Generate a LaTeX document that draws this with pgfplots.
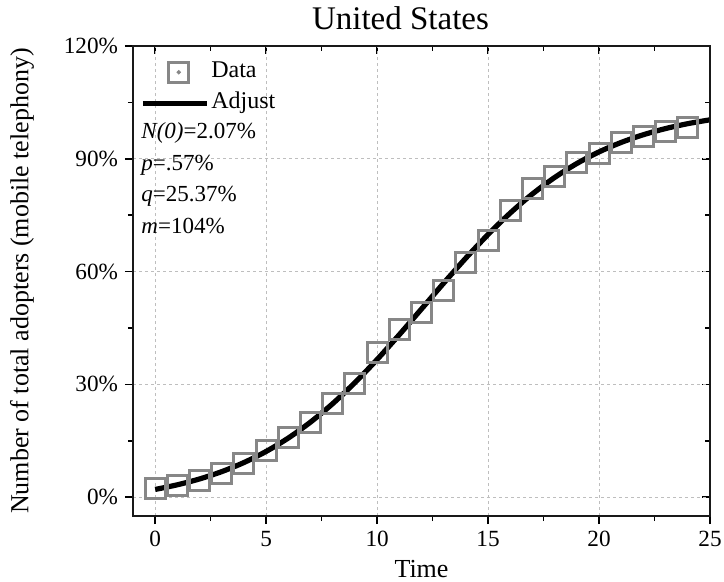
\documentclass[border=0pt]{standalone}
\usepackage{fontspec}
\setmainfont{Liberation Serif}
\usepackage{pgfplots}
\usepackage{pgfplotstable}
\pgfplotsset{compat=1.18}

\definecolor{markgray}{RGB}{135,135,135}
\definecolor{gridgray}{RGB}{190,190,190}
\definecolor{framegray}{RGB}{25,25,25}

% Observed cumulative adoption (percent of population)
\pgfplotstableread{
t  y
0  2.3
1  3.1
2  4.4
3  6.4
4  9.0
5  12.4
6  16.0
7  20.0
8  24.9
9  30.3
10 38.4
11 44.5
12 49.1
13 55.0
14 62.5
15 68.3
16 76.3
17 82.0
18 85.3
19 88.9
20 91.4
21 94.3
22 96.0
23 97.2
24 98.4
}\observed

% Fitted Bass diffusion curve (N0=2.07%, p=0.57%, q=25.37%, m=104%)
\pgfplotstableread{
t  y
0  2.07
1  3.31
2  4.86
3  6.81
4  9.23
5  12.18
6  15.75
7  19.98
8  24.90
9  30.48
10 36.63
11 43.23
12 50.07
13 56.94
14 63.61
15 69.88
16 75.59
17 80.66
18 85.04
19 88.75
20 91.84
21 94.36
22 96.41
23 98.05
24 99.35
25 100.37
}\fitted

\pgfplotsset{
  frame/.style={
    width=288.5pt, height=235pt, scale only axis,
    xmin=-1, xmax=25, ymin=-5, ymax=120,
    xtick={0,5,...,25}, ytick={0,30,...,120},
    minor xtick={2.5,7.5,...,22.5}, minor ytick={15,45,...,105},
    axis line style={line width=1pt, black},
    major tick style={line width=0.8pt, black},
    minor tick style={line width=0.8pt, black},
    major tick length=4pt, minor tick length=2.6pt,
  },
  datalegend/.style={
    legend image code/.code={
      \draw[##1] plot coordinates {(18pt,0pt)};
      \fill[markgray] (18pt,0pt) circle (0.9pt);
    }
  },
  fitlegend/.style={
    legend image code/.code={
      \draw[black, line width=2.5pt] (0pt,0pt) -- (32pt,0pt);
    }
  },
}

\begin{document}
\begin{tikzpicture}
% inward ticks on the top and right sides of the frame
\begin{axis}[frame,
  xtick pos=right, ytick pos=right,
  tick align=inside,
  xticklabels={}, yticklabels={},
]
\end{axis}

\begin{axis}[frame, name=main,
  xtick pos=left, ytick pos=left,
  tick align=outside,
  clip=false,
  grid=major,
  major grid style={gridgray, line width=0.45pt, dash pattern=on 1.6pt off 1.4pt},
  /pgf/number format/assume math mode=true,
  tick label style={font=\fontsize{11.6}{13}\selectfont},
  yticklabel={\pgfmathprintnumber{\tick}\%},
  xlabel={Time},
  ylabel={Number of total adopters (mobile telephony)},
  label style={font=\fontsize{13}{15}\selectfont},
  ylabel style={yshift=8pt},
  title={United States},
  title style={font=\fontsize{16.5}{19}\selectfont, yshift=-1.5pt, xshift=-10.5pt},
  legend style={at={(0.012,0.978)}, anchor=north west, draw=none, fill=none,
    inner sep=0pt, font=\fontsize{12}{14}\selectfont,
    nodes={text height=8.5pt, text depth=3.2pt, inner ysep=1.9pt, inner xsep=1pt}},
  legend cell align=left,
]
\addplot[only marks, mark=square, mark size=5pt,
  mark options={draw=markgray, line width=1.5pt}, datalegend]
  table[x=t, y=y] {\observed};
\addlegendentry{Data}

\addplot[black, line width=2.6pt, smooth, fitlegend]
  table[x=t, y=y] {\fitted};
\addlegendentry{Adjust}

\node[anchor=west, font=\fontsize{11.5}{14}\selectfont, inner sep=0pt]
  at (rel axis cs:0.014,0.815) {\textit{N(0)}=2.07\%};
\node[anchor=west, font=\fontsize{11.5}{14}\selectfont, inner sep=0pt]
  at (rel axis cs:0.014,0.747) {\textit{p}=.57\%};
\node[anchor=west, font=\fontsize{11.5}{14}\selectfont, inner sep=0pt]
  at (rel axis cs:0.014,0.681) {\textit{q}=25.37\%};
\node[anchor=west, font=\fontsize{11.5}{14}\selectfont, inner sep=0pt]
  at (rel axis cs:0.014,0.617) {\textit{m}=104\%};

% frame
\draw[line width=1.3pt, framegray] (rel axis cs:0,0) rectangle (rel axis cs:1,1);
\end{axis}

\pgfresetboundingbox
\path ([xshift=-66.5pt, yshift=-32.5pt]main.south west)
  rectangle ([xshift=7pt, yshift=23pt]main.north east);
\end{tikzpicture}
\end{document}
